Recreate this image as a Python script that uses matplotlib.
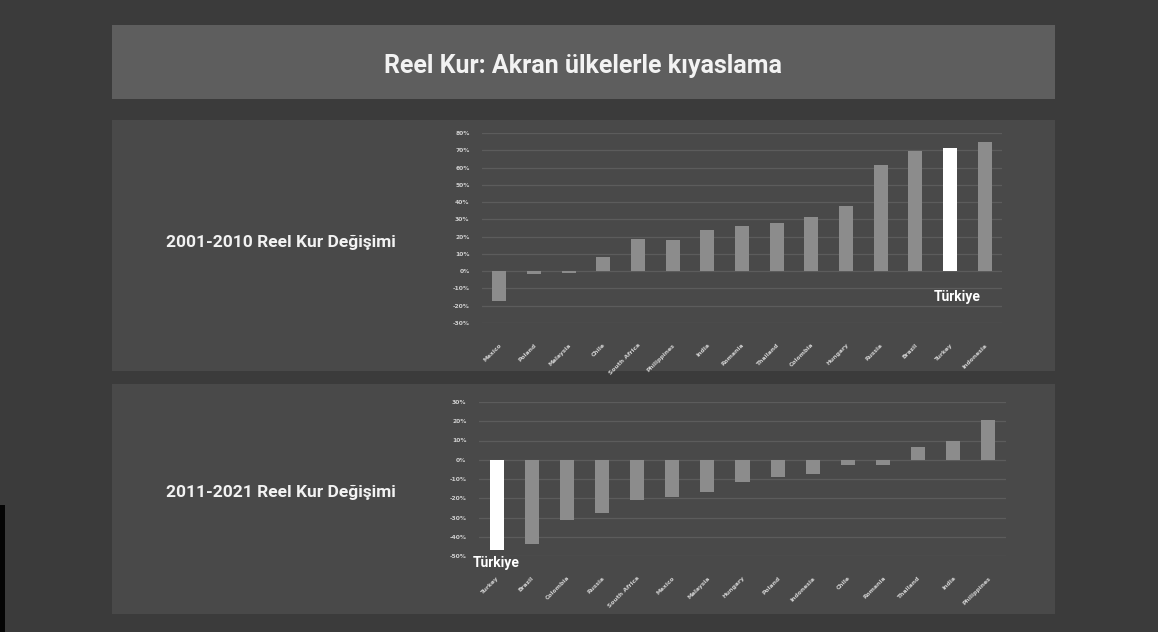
import matplotlib
matplotlib.use("Agg")
import matplotlib.pyplot as plt
from matplotlib.patches import Rectangle
from matplotlib.ticker import FuncFormatter, MultipleLocator

# ---------------- data ----------------
title = "Reel Kur: Akran ülkelerle kıyaslama"
label_top = "2001-2010 Reel Kur Değişimi"
label_bottom = "2011-2021 Reel Kur Değişimi"

countries_2001_2010 = ["Mexico", "Poland", "Malaysia", "Chile", "South Africa", "Philippines",
                       "India", "Romania", "Thailand", "Colombia", "Hungary", "Russia",
                       "Brazil", "Turkey", "Indonesia"]
change_2001_2010 = [-17, -1.5, -0.8, 8, 18.5, 18, 24, 26, 28, 31.5, 38, 61.5, 69.5, 71.5, 75]

countries_2011_2021 = ["Turkey", "Brazil", "Colombia", "Russia", "South Africa", "Mexico",
                       "Malaysia", "Hungary", "Poland", "Indonesia", "Chile", "Romania",
                       "Thailand", "India", "Philippines"]
change_2011_2021 = [-47, -44, -31.5, -27.5, -21, -19.5, -16.5, -11.5, -8.8, -7.3, -2.5, -2.5,
                    6.5, 10, 20.5]

highlight = "Turkey"
highlight_label = "Türkiye"

# ---------------- style ----------------
W, H = 1158, 632
BG = "#3b3b3b"
TITLE_BOX = "#5e5e5e"
PANEL = "#494949"
BAR = "#8c8c8c"
HL = "#ffffff"
GRID = "#5c5c5c"
TXT = "#f2f2f2"
TICK = "#d0d0d0"
FONT = ["Roboto", "DejaVu Sans"]

fig = plt.figure(figsize=(W / 100, H / 100), dpi=100)
fig.patch.set_facecolor(BG)


def rect_px(x0, y0, x1, y1, color):
    fig.patches.append(Rectangle((x0 / W, 1 - y1 / H), (x1 - x0) / W, (y1 - y0) / H,
                                 transform=fig.transFigure, facecolor=color,
                                 edgecolor="none", zorder=-10))


def axes_px(x0, y0, x1, y1):
    return fig.add_axes([x0 / W, 1 - y1 / H, (x1 - x0) / W, (y1 - y0) / H])


rect_px(0, 505, 5, 632, "#050505")
rect_px(112, 25, 1055, 99, TITLE_BOX)
rect_px(112, 120, 1055, 371, PANEL)
rect_px(112, 384, 1055, 614, PANEL)

fig.text(583 / W, 1 - 66 / H, title, ha="center", va="center", color=TXT,
         fontsize=18, fontweight="bold", family=FONT)
fig.text(281 / W, 1 - 242 / H, label_top, ha="center", va="center", color=TXT,
         fontsize=12.5, fontweight="bold", family=FONT)
fig.text(281 / W, 1 - 492 / H, label_bottom, ha="center", va="center", color=TXT,
         fontsize=12.5, fontweight="bold", family=FONT)


def draw(ax, cats, vals, ylim, step, hl_x, hl_y):
    x = list(range(len(cats)))
    colors = [HL if c == highlight else BAR for c in cats]
    ax.bar(x, vals, width=0.4, color=colors, zorder=3)
    ax.set_xlim(-0.5, len(cats) - 0.5)
    ax.set_ylim(*ylim)
    ax.yaxis.set_major_locator(MultipleLocator(step))
    ax.yaxis.set_major_formatter(FuncFormatter(lambda v, p: f"{v:.0f}%"))
    ax.set_facecolor("none")
    ax.grid(axis="y", color=GRID, linewidth=0.9, zorder=0)
    ax.grid(axis="x", visible=False)
    for s in ax.spines.values():
        s.set_visible(False)
    ax.tick_params(axis="both", length=0, colors=TICK, labelsize=4.3)
    ax.tick_params(axis="y", pad=9)
    for t in ax.get_yticklabels():
        t.set_fontweight("bold")
    ax.set_xticks(x)
    ax.set_xticklabels(cats, rotation=45, ha="right", rotation_mode="anchor",
                       fontsize=4.3, color=TICK, fontweight="bold")
    ax.tick_params(axis="x", pad=14)
    i = cats.index(highlight)
    ax.text(i + hl_x, hl_y, highlight_label, ha="center", va="center", color=HL,
            fontsize=10, fontweight="bold", family=FONT)


ax1 = axes_px(482, 133, 1002, 323)
draw(ax1, countries_2001_2010, change_2001_2010, (-30, 80), 10, 0.2, -15)

ax2 = axes_px(479, 402, 1006, 556)
draw(ax2, countries_2011_2021, change_2011_2021, (-50, 30), 10, 0.0, -53.5)

fig.savefig("out.png", dpi=100, facecolor=BG)
